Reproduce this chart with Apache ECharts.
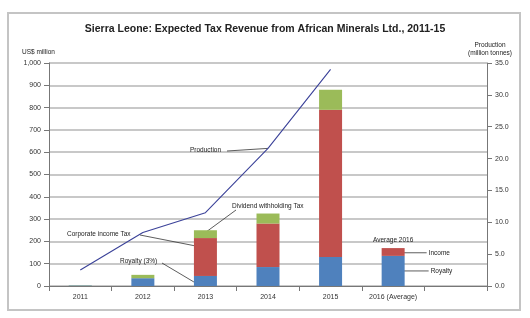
<!DOCTYPE html>
<html>
<head>
<meta charset="utf-8">
<script src="https://cdn.jsdelivr.net/npm/echarts@6/dist/echarts.min.js"></script>
<style>
  html, body { margin: 0; padding: 0; background: #fff; }
  #chart { width: 530px; height: 318px; }
</style>
</head>
<body>
<div id="chart"></div>
<script>
// categories (last one is an empty slot, the plot leaves room on the right)
var years = ['2011', '2012', '2013', '2014', '2015', '2016 (Average)', ''];
// US$ million, stacked
var royalty = [2, 35, 45, 85, 130, 135, null];
var incomeTax = [0, 0, 170, 195, 660, 35, null];
var dividendTax = [1, 15, 35, 45, 90, null, null];
// million tonnes, right axis
var production = [2.5, 8.4, 11.5, 21.6, 34.0, null, null];

var FONT = 'Liberation Sans';
var txt = { fontFamily: FONT, fontSize: 7, color: '#333' };

var chart = echarts.init(document.getElementById('chart'));

var option = {
  animation: false,
  backgroundColor: '#fff',
  title: {
    text: 'Sierra Leone: Expected Tax Revenue from African Minerals Ltd., 2011-15',
    left: 'center',
    top: 19,
    textStyle: { fontFamily: FONT, fontSize: 10.5, fontWeight: 'bold', color: '#222' }
  },
  grid: { left: 49, right: 43, top: 63, bottom: 32 },
  xAxis: {
    type: 'category',
    data: years,
    axisLine: { lineStyle: { color: '#777' } },
    axisTick: { show: true, lineStyle: { color: '#777' } },
    axisLabel: Object.assign({ margin: 8 }, txt)
  },
  yAxis: [
    {
      type: 'value', min: 0, max: 1000, interval: 100,
      axisLine: { show: true, lineStyle: { color: '#777' } },
      axisTick: { show: true, lineStyle: { color: '#777' } },
      splitLine: { lineStyle: { color: '#c8c8c8', width: 2 } },
      axisLabel: Object.assign({
        margin: 8,
        formatter: function (v) { return v === 1000 ? '1,000' : String(v); }
      }, txt)
    },
    {
      type: 'value', min: 0, max: 35, interval: 5,
      axisLine: { show: true, lineStyle: { color: '#777' } },
      axisTick: { show: true, lineStyle: { color: '#777' } },
      splitLine: { show: false },
      axisLabel: Object.assign({
        margin: 8,
        formatter: function (v) { return v.toFixed(1); }
      }, txt)
    }
  ],
  series: [
    { name: 'Royalty', type: 'bar', stack: 'tax', data: royalty, barWidth: 23,
      itemStyle: { color: '#4F81BD' } },
    { name: 'Corporate income Tax', type: 'bar', stack: 'tax', data: incomeTax,
      itemStyle: { color: '#C0504D' } },
    { name: 'Dividend withholding Tax', type: 'bar', stack: 'tax', data: dividendTax,
      itemStyle: { color: '#9BBB59' } },
    { name: 'Production', type: 'line', yAxisIndex: 1, data: production,
      symbol: 'none', connectNulls: false,
      lineStyle: { color: '#3b4299', width: 1.1 } }
  ]
};
chart.setOption(option);

// annotation labels with leader lines, anchored on the data through the axes
function px(i, v) { return chart.convertToPixel({ xAxisIndex: 0, yAxisIndex: 0 }, [i, v]); }
function pxR(i, v) { return chart.convertToPixel({ xAxisIndex: 0, yAxisIndex: 1 }, [i, v]); }
var half = 11.5;

function label(x, y, s, align) {
  return { type: 'text', x: x, y: y, style: { text: s, fontFamily: FONT, fontSize: 6.5,
    fill: '#222', align: align || 'left', verticalAlign: 'middle' } };
}
function leader(x1, y1, x2, y2) {
  return { type: 'line', shape: { x1: x1, y1: y1, x2: x2, y2: y2 },
    style: { stroke: '#333', lineWidth: 0.8 } };
}

var p14 = pxR(3, production[3]);
var g13 = px(2, royalty[2] + incomeTax[2] + dividendTax[2] - 10);
var r13 = px(2, royalty[2] + incomeTax[2] * 0.8);
var b13 = px(2, royalty[2] * 0.4);
var top16 = px(5, royalty[5] + incomeTax[5]);
var r16 = px(5, royalty[5] + incomeTax[5] * 0.4);
var b16 = px(5, royalty[5] * 0.5);

chart.setOption({
  graphic: [
    { type: 'rect', shape: { x: 8, y: 13, width: 512, height: 297 },
      style: { fill: 'none', stroke: '#c4c4c4', lineWidth: 2 }, silent: true },
    label(22, 52, 'US$ million'),
    label(490, 45, 'Production', 'center'),
    label(490, 53, '(million tonnes)', 'center'),

    label(190, 150, 'Production'),
    leader(227, 151, p14[0], p14[1]),

    label(232, 206, 'Dividend withholding Tax'),
    leader(236, 210, g13[0], g13[1]),

    label(67, 234, 'Corporate income Tax'),
    leader(140, 235, r13[0] - half, r13[1]),

    label(120, 261, 'Royalty (3%)'),
    leader(162, 263, b13[0] - half, b13[1]),

    label(top16[0], top16[1] - 8, 'Average 2016', 'center'),
    leader(r16[0] + half - 2, r16[1], r16[0] + half + 22, r16[1]),
    label(r16[0] + half + 24, r16[1], 'Income'),
    leader(b16[0] + half - 2, b16[1], b16[0] + half + 24, b16[1]),
    label(b16[0] + half + 26, b16[1], 'Royalty')
  ]
});
</script>
</body>
</html>
